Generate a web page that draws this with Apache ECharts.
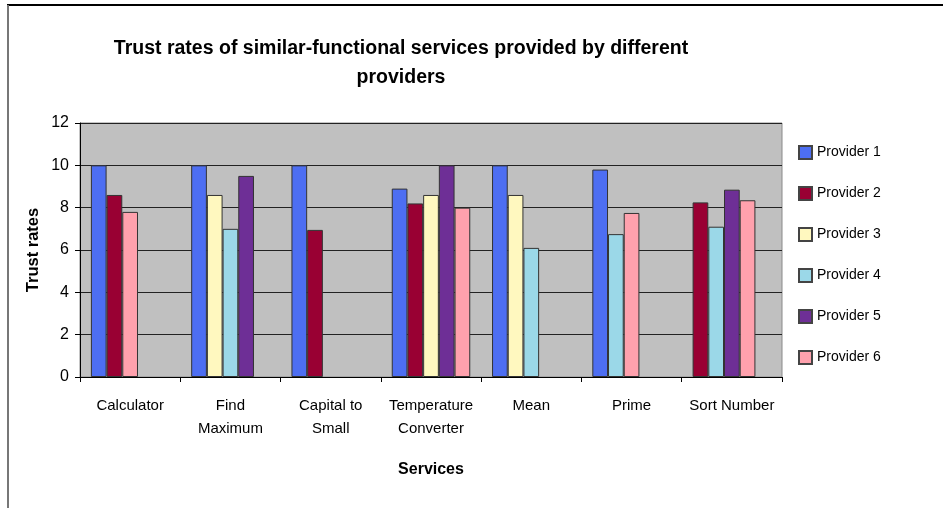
<!DOCTYPE html>
<html>
<head>
<meta charset="utf-8">
<script src="https://cdn.jsdelivr.net/npm/echarts@6/dist/echarts.min.js"></script>
<style>html,body{margin:0;padding:0;background:#fff}#c{width:943px;height:508px}</style>
</head>
<body>
<div id="c"></div>
<script>
var categories = ['Calculator', 'Find\nMaximum', 'Capital to\nSmall', 'Temperature\nConverter', 'Mean', 'Prime', 'Sort Number'];
var providerNames = ['Provider 1', 'Provider 2', 'Provider 3', 'Provider 4', 'Provider 5', 'Provider 6'];
var provider1 = [10, 10, 10, 8.9, 10, 9.8, null];
var provider2 = [8.6, null, 6.95, 8.2, null, null, 8.25];
var provider3 = [null, 8.6, null, 8.6, 8.6, null, null];
var provider4 = [null, 7.0, null, null, 6.1, 6.75, 7.1];
var provider5 = [null, 9.5, null, 10, null, null, 8.85];
var provider6 = [7.8, null, null, 8.0, null, 7.75, 8.35];
var yTicks = [0, 2, 4, 6, 8, 10, 12];

var providers = [provider1, provider2, provider3, provider4, provider5, provider6];
var colors = ['#4D6EF2', '#990033', '#FFF8BF', '#9BD8E8', '#6E2F96', '#FFA1AD'];

// Excel packs the present bars of each category side by side (5 slots)
var slots = 5;
var slotSeries = [];
for (var s = 0; s < slots; s++) slotSeries.push([]);
for (var c = 0; c < categories.length; c++) {
  var k = 0;
  for (var p = 0; p < providers.length; p++) {
    if (providers[p][c] != null) {
      slotSeries[k].push({ value: providers[p][c], itemStyle: { color: colors[p] } });
      k++;
    }
  }
  for (; k < slots; k++) slotSeries[k].push(null);
}

var series = [];
slotSeries.forEach(function (d, i) {
  series.push({
    type: 'bar', name: 'slot' + i, data: d, barWidth: 15.7, barGap: '0%',
    itemStyle: { borderColor: '#333', borderWidth: 1 },
    silent: true
  });
});
providerNames.forEach(function (n, i) {
  series.push({
    type: 'line', name: n, data: [],
    itemStyle: { color: colors[i], borderColor: '#444', borderWidth: 1 }
  });
});

var chart = echarts.init(document.getElementById('c'));
chart.setOption({
  animation: false,
  backgroundColor: '#fff',
  title: {
    text: 'Trust rates of similar-functional services provided by different\nproviders',
    left: 396, top: 29, textAlign: 'center',
    textStyle: { fontFamily: 'Liberation Sans', fontWeight: 'bold', fontSize: 19.5, lineHeight: 29, color: '#000' }
  },
  legend: {
    data: providerNames, orient: 'vertical', left: 798, top: 145, padding: 0,
    icon: 'rect', itemWidth: 13, itemHeight: 13, itemGap: 26,
    textStyle: { fontFamily: 'Liberation Sans', fontSize: 14, color: '#000' }
  },
  grid: {
    left: 80, right: 161, top: 123, bottom: 131, show: true,
    backgroundColor: '#C0C0C0', borderColor: '#8a8a8a', borderWidth: 1
  },
  xAxis: {
    type: 'category', data: categories,
    name: 'Services', nameLocation: 'middle', nameGap: 85,
    nameTextStyle: { fontFamily: 'Liberation Sans', fontWeight: 'bold', fontSize: 16, color: '#000', verticalAlign: 'top' },
    axisLine: { lineStyle: { color: '#000', width: 1 } },
    axisTick: { show: true, length: 5, lineStyle: { color: '#000' } },
    axisLabel: { margin: 17, interval: 0, fontFamily: 'Liberation Sans', fontSize: 15, lineHeight: 23, color: '#000' }
  },
  yAxis: {
    type: 'value', min: yTicks[0], max: yTicks[yTicks.length - 1], interval: 2,
    name: 'Trust rates', nameLocation: 'middle', nameGap: 38, nameRotate: 90, nameMoveOverlap: false,
    nameTextStyle: { fontFamily: 'Liberation Sans', fontWeight: 'bold', fontSize: 16.5, color: '#000' },
    axisLine: { show: true, lineStyle: { color: '#000', width: 1 } },
    axisTick: { show: true, length: 5, lineStyle: { color: '#000' } },
    axisLabel: { margin: 11, fontFamily: 'Liberation Sans', fontSize: 16, color: '#000' },
    splitLine: { show: true, lineStyle: { color: '#222', width: 1 } }
  },
  graphic: [
    { type: 'line', shape: { x1: 7, y1: 5, x2: 943, y2: 5 }, style: { stroke: '#000', lineWidth: 2 } },
    { type: 'line', shape: { x1: 8, y1: 5, x2: 8, y2: 508 }, style: { stroke: '#777', lineWidth: 2 } }
  ],
  series: series
});
</script>
</body>
</html>
